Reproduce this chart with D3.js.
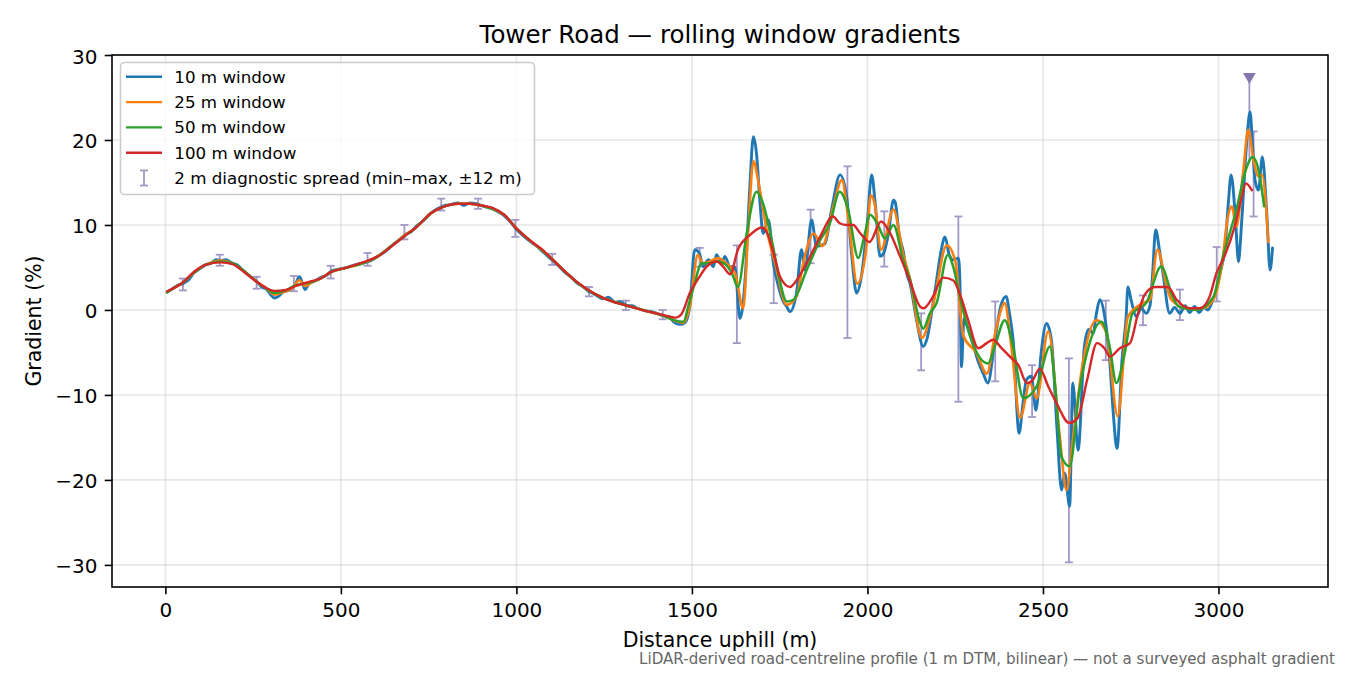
<!DOCTYPE html>
<html lang="en">
<head>
<meta charset="UTF-8">
<title>Tower Road — rolling window gradients</title>
<script src="https://cdn.jsdelivr.net/npm/d3@7"></script>
<style>
  body { margin: 0; background: #fff; }
  text { font-family: "DejaVu Sans", sans-serif; }
</style>
</head>
<body>
<svg id="chart" width="1350" height="675"></svg>
<script>
// ---- data (distance m, gradient %) ----
const win10 = [[5,2.1],[20,2.5],[35,2.9],[50,3.1],[65,3.5],[82,4.4],[100,4.9],[114,5.3],[130,5.5],[145,5.9],[158,5.8],[172,5.9],[191,5.5],[205,5.3],[223,4.6],[240,4.0],[261,3.3],[275,2.7],[289,2.4],[300,1.8],[311,1.4],[322,1.6],[335,2.1],[350,2.3],[362,2.6],[370,3.0],[382,3.9],[390,3.2],[398,2.4],[409,3.1],[425,3.4],[442,3.8],[460,4.1],[474,4.6],[495,4.8],[518,5.0],[540,5.3],[562,5.5],[585,5.8],[605,6.3],[627,6.9],[649,7.7],[668,8.3],[685,8.9],[700,9.2],[714,9.8],[735,10.5],[757,11.4],[775,11.9],[790,12.2],[812,12.4],[834,12.6],[850,12.3],[867,12.6],[885,12.5],[900,12.3],[915,12.1],[932,11.9],[950,11.5],[965,11.1],[982,10.4],[1000,9.5],[1020,8.7],[1041,8.0],[1058,7.5],[1074,6.9],[1090,6.3],[1104,5.8],[1120,5.2],[1139,4.4],[1155,3.9],[1172,3.2],[1188,2.8],[1205,2.2],[1220,1.9],[1232,1.6],[1248,1.3],[1262,1.5],[1281,0.9],[1296,1.0],[1316,0.5],[1330,0.5],[1345,0.2],[1368,-0.1],[1385,-0.2],[1400,-0.4],[1420,-0.7],[1435,-0.8],[1448,-1.4],[1465,-1.7],[1480,-1.5],
  [1494,0.4],[1508,7.1],[1521,6.7],[1532,5.1],[1547,5.9],[1561,5.1],[1570,6.5],[1585,5.5],[1594,6.3],[1608,5.1],[1622,5.1],[1637,-1.0],[1651,3.3],[1665,14.5],[1675,20.4],[1684,18.4],[1694,12.6],[1703,9.0],[1718,10.6],[1732,5.5],[1745,3.0],[1760,1.0],[1770,0.4],[1779,-0.2],[1798,2.0],[1812,7.1],[1822,4.7],[1841,10.6],[1855,7.5],[1879,7.8],[1898,11.8],[1922,15.9],[1941,13.3],[1955,6.5],[1969,2.0],[1984,4.3],[2000,10.5],[2012,15.9],[2022,12.6],[2036,6.3],[2045,6.6],[2060,9.0],[2074,12.9],[2079,12.7],[2090,9.0],[2103,6.7],[2112,4.3],[2122,3.0],[2140,-1.2],[2159,-4.3],[2169,-3.5],[2187,0.8],[2197,3.5],[2210,7.0],[2221,8.6],[2233,6.5],[2245,5.9],[2259,6.1],[2263,4.0],[2268,-6.7],[2275,-1.0],[2283,-1.8],[2297,-3.5],[2315,-6.0],[2330,-7.5],[2343,-8.6],[2362,-3.9],[2380,0.5],[2395,1.6],[2405,-0.5],[2415,-3.5],[2432,-14.5],[2443,-11.0],[2453,-8.2],[2467,-7.8],[2480,-11.8],[2495,-5.0],[2510,-1.6],[2524,-3.5],[2540,-14.0],[2553,-21.2],[2562,-19.2],[2576,-23.1],[2585,-8.6],[2600,-16.5],[2618,-4.3],[2630,-2.3],[2643,-2.7],[2652,-0.5],[2662,1.2],[2676,-0.8],[2690,-5.9],[2700,-12.0],[2711,-16.3],[2725,-6.0],[2737,-0.8],[2742,2.7],[2752,1.0],[2766,-0.8],[2780,0.2],[2794,-0.4],[2805,0.5],[2812,4.0],[2821,9.4],[2832,7.0],[2842,4.3],[2861,-0.4],[2875,0.3],[2890,-0.4],[2905,0.5],[2918,-0.3],[2932,0.4],[2945,-0.3],[2958,0.3],[2970,0.0],[2984,1.2],[2995,2.5],[3004,4.3],[3019,7.5],[3028,12.5],[3036,15.9],[3048,11.0],[3057,5.7],[3064,9.0],[3071,13.7],[3080,19.5],[3090,23.3],[3097,19.5],[3104,15.3],[3114,14.1],[3125,18.0],[3138,11.0],[3147,4.7],[3154,7.3]];

const win25 = [[5,2.1],[25,2.6],[49,3.2],[82,4.4],[114,5.3],[140,5.7],[158,5.8],[191,5.5],[223,4.6],[261,3.3],[289,2.5],[311,1.8],[335,2.1],[360,2.5],[382,3.5],[398,2.8],[420,3.3],[442,3.7],[474,4.5],[518,5.0],[562,5.5],[605,6.3],[649,7.7],[685,8.9],[714,9.7],[757,11.4],[790,12.1],[834,12.5],[867,12.5],[900,12.3],[932,11.9],[965,11.2],[1000,9.6],[1041,8.1],[1074,7.0],[1104,5.9],[1139,4.5],[1172,3.3],[1205,2.3],[1248,1.4],[1281,0.9],[1316,0.5],[1368,-0.1],[1420,-0.7],[1448,-1.2],[1476,-1.5],
  [1494,0.4],[1517,6.5],[1530,5.5],[1550,5.7],[1574,6.1],[1597,5.5],[1623,4.3],[1646,0.2],[1661,9.8],[1675,17.5],[1690,14.9],[1713,9.4],[1737,5.5],[1770,0.6],[1798,1.6],[1819,5.9],[1847,9.0],[1871,7.5],[1903,12.2],[1927,15.3],[1946,10.6],[1971,3.1],[1995,6.7],[2010,13.5],[2020,12.6],[2039,7.1],[2074,11.8],[2101,6.7],[2122,3.5],[2155,-3.3],[2187,0.6],[2226,7.6],[2250,5.8],[2273,-3.0],[2311,-5.1],[2340,-7.5],[2365,-2.5],[2391,0.8],[2410,-4.3],[2435,-12.7],[2463,-8.6],[2482,-10.4],[2515,-2.5],[2547,-14.5],[2567,-21.2],[2585,-15.3],[2615,-5.9],[2652,-1.2],[2681,-2.7],[2713,-12.5],[2742,-0.8],[2785,0.8],[2805,1.2],[2826,7.1],[2853,2.7],[2866,1.2],[2908,0.2],[2955,0.2],[2985,1.2],[3009,5.1],[3027,11.0],[3038,12.2],[3051,9.8],[3070,16.1],[3085,21.2],[3100,17.6],[3114,15.7],[3124,15.9],[3142,8.0]];

const win50 = [[5,2.1],[25,2.6],[49,3.2],[82,4.4],[114,5.3],[158,5.7],[191,5.5],[223,4.6],[261,3.3],[289,2.5],[311,2.0],[343,2.3],[370,2.9],[409,3.2],[442,3.7],[474,4.5],[518,5.0],[562,5.5],[605,6.3],[649,7.7],[685,8.8],[714,9.7],[757,11.4],[790,12.1],[834,12.5],[867,12.5],[900,12.3],[932,11.9],[965,11.2],[1000,9.6],[1041,8.1],[1074,7.0],[1104,5.9],[1139,4.5],[1172,3.3],[1205,2.3],[1248,1.4],[1281,0.9],[1316,0.5],[1368,-0.1],[1420,-0.7],
  [1448,-1.2],[1476,-1.4],[1490,0.5],[1505,2.7],[1528,5.5],[1551,5.5],[1574,5.7],[1597,5.3],[1615,4.2],[1631,2.7],[1656,9.0],[1684,13.9],[1702,12.6],[1731,7.5],[1750,3.5],[1770,1.0],[1789,1.2],[1827,4.7],[1865,8.2],[1893,10.2],[1921,13.9],[1945,11.8],[1974,6.1],[1990,8.5],[2008,11.2],[2030,10.0],[2050,8.4],[2074,10.0],[2101,6.0],[2122,3.5],[2150,-1.5],[2159,-2.2],[2178,-0.4],[2197,0.8],[2229,6.5],[2245,5.0],[2263,1.6],[2296,-3.5],[2343,-6.3],[2365,-4.0],[2391,-1.2],[2415,-4.3],[2444,-10.4],[2482,-9.0],[2520,-4.3],[2535,-9.0],[2553,-17.3],[2576,-18.4],[2604,-9.4],[2633,-3.9],[2667,-1.4],[2690,-4.3],[2709,-8.6],[2731,-5.5],[2755,-0.4],[2794,0.8],[2837,5.1],[2869,1.6],[2887,0.4],[2938,0.0],[2985,1.5],[3013,6.3],[3051,11.8],[3078,16.5],[3097,18.0],[3116,16.1],[3130,12.2]];

const win100 = [[5,2.2],[49,3.2],[82,4.5],[114,5.3],[158,5.6],[191,5.4],[223,4.5],[261,3.3],[289,2.55],[311,2.24],[343,2.35],[370,2.8],[409,3.3],[442,3.7],[474,4.5],[518,5.0],[562,5.6],[605,6.3],[649,7.65],[685,8.8],[714,9.7],[757,11.4],[790,12.1],[834,12.5],[867,12.5],[900,12.3],[932,12.0],[965,11.2],[1000,9.6],[1041,8.1],[1074,7.1],[1104,5.9],[1139,4.5],[1172,3.3],[1205,2.35],[1248,1.4],[1281,0.9],[1316,0.5],[1368,-0.1],[1420,-0.6],[1453,-0.9],[1470,-0.5],
  [1494,2.0],[1520,3.8],[1542,5.1],[1571,5.7],[1589,5.1],[1609,4.2],[1631,7.1],[1665,8.8],[1699,9.7],[1717,8.8],[1735,6.3],[1751,3.9],[1779,2.7],[1800,3.6],[1827,5.5],[1865,8.6],[1902,11.0],[1921,10.2],[1940,10.0],[1959,10.0],[1980,9.0],[2006,8.0],[2039,10.4],[2060,9.4],[2093,6.3],[2120,3.5],[2150,0.4],[2160,0.2],[2187,1.6],[2215,3.8],[2244,3.5],[2264,1.8],[2287,-1.2],[2316,-4.5],[2340,-3.9],[2358,-3.5],[2380,-4.4],[2406,-5.5],[2430,-6.5],[2454,-8.6],[2470,-8.3],[2491,-6.9],[2515,-9.0],[2538,-10.9],[2575,-13.3],[2599,-12.7],[2626,-8.2],[2654,-3.9],[2675,-4.5],[2691,-5.5],[2719,-4.5],[2748,-3.9],[2771,-0.4],[2790,1.8],[2819,2.7],[2856,2.7],[2881,1.2],[2918,0.2],[2947,0.2],[2975,1.6],[2994,4.3],[3017,6.3],[3046,9.8],[3064,12.9],[3078,14.9],[3095,14.1]];

// 2 m diagnostic spread (min–max within ±12 m)
const spreadAt  = [50,155,260,366,471,576,681,786,891,997,1102,1207,1312,1417,1522,1628,1733,1838,1943,2048,2153,2259,2364,2469,2574,2679,2785,2890,2995,3100];
const spreadMin = [2.3,5.2,2.5,2.2,3.7,5.2,8.3,11.7,11.9,8.6,5.3,1.6,0.0,-1.1,5.1,-3.9,0.8,5.5,-3.3,5.1,-7.1,-10.8,-8.4,-12.6,-29.7,-5.9,-1.8,-1.2,1.0,11.0];
const spreadMax = [3.7,6.5,3.9,4.0,5.2,6.7,10.0,13.1,13.1,10.6,6.6,2.7,1.1,0.0,7.3,7.6,6.5,11.8,16.9,11.6,-0.4,11.0,1.0,-6.5,-5.7,1.1,1.7,2.4,7.4,21.0];
// steepest 2 m reading, flagged with a marker
const peakAt = 3088, peakTop = 27.3, peakFoot = 17.6;

const seriesNames  = ["10 m window", "25 m window", "50 m window", "100 m window"];
const seriesColors = ["#1f77b4", "#ff7f0e", "#2ca02c", "#d62728"];
const seriesWidths = [2.9, 2.6, 2.5, 2.4];
const xTicks = [0, 500, 1000, 1500, 2000, 2500, 3000];
const yTicks = [-30, -20, -10, 0, 10, 20, 30];

// ---- layout ----
const W = 1350, H = 675;
const L = 112, R = 1328, T = 55, B = 587;
const svg = d3.select("#chart");
svg.append("rect").attr("width", W).attr("height", H).attr("fill", "#fff");

const x = d3.scaleLinear().domain([-152, 3312]).range([L, R]);
const y = d3.scaleLinear().domain([-32.6, 30]).range([B, T]);

svg.append("defs").append("clipPath").attr("id", "plotClip")
  .append("rect").attr("x", L).attr("y", T).attr("width", R - L).attr("height", B - T);

// grid
const grid = svg.append("g");
grid.selectAll(".gx").data(xTicks).enter().append("line")
  .attr("x1", d => x(d)).attr("x2", d => x(d)).attr("y1", T).attr("y2", B)
  .attr("stroke", "#b0b0b0").attr("stroke-opacity", 0.3).attr("stroke-width", 1.6);
grid.selectAll(".gy").data(yTicks).enter().append("line")
  .attr("x1", L).attr("x2", R).attr("y1", d => y(d)).attr("y2", d => y(d))
  .attr("stroke", "#b0b0b0").attr("stroke-opacity", 0.3).attr("stroke-width", 1.6);

const plot = svg.append("g").attr("clip-path", "url(#plotClip)");

// error bars (behind the lines)
const barColor = "#a397c7";
const bars = plot.append("g");
spreadAt.forEach((d, i) => {
  const g = bars.append("g").attr("stroke", barColor).attr("stroke-width", 1.8);
  g.append("line").attr("x1", x(d)).attr("x2", x(d)).attr("y1", y(spreadMin[i])).attr("y2", y(spreadMax[i]));
  g.append("line").attr("x1", x(d) - 4).attr("x2", x(d) + 4).attr("y1", y(spreadMin[i])).attr("y2", y(spreadMin[i]));
  g.append("line").attr("x1", x(d) - 4).attr("x2", x(d) + 4).attr("y1", y(spreadMax[i])).attr("y2", y(spreadMax[i]));
});
bars.append("line")
  .attr("x1", x(peakAt)).attr("x2", x(peakAt)).attr("y1", y(peakTop)).attr("y2", y(peakFoot))
  .attr("stroke", barColor).attr("stroke-width", 1.8);

// rolling window lines
const line = d3.line().x(d => x(d[0])).y(d => y(d[1])).curve(d3.curveMonotoneX);
[win10, win25, win50, win100].forEach((s, i) => {
  plot.append("path").datum(s).attr("d", line)
    .attr("fill", "none").attr("stroke", seriesColors[i])
    .attr("stroke-width", seriesWidths[i])
    .attr("stroke-linejoin", "round").attr("stroke-linecap", "round");
});

// peak marker (downward triangle)
const px = x(peakAt), py = y(peakTop);
svg.append("path")
  .attr("d", `M${px - 6.3},${py - 5} L${px + 6.3},${py - 5} L${px},${py + 6} Z`)
  .attr("fill", "#8576ae");

// axes
const xAxis = svg.append("g").attr("transform", `translate(0,${B})`)
  .call(d3.axisBottom(x).tickValues(xTicks).tickSize(7.3).tickPadding(8.5).tickFormat(d3.format("d")));
const yAxis = svg.append("g").attr("transform", `translate(${L},0)`)
  .call(d3.axisLeft(y).tickValues(yTicks).tickSize(7.3).tickPadding(7.3)
    .tickFormat(d => d < 0 ? "\u2212" + Math.abs(d) : d));
[xAxis, yAxis].forEach(a => {
  a.select(".domain").remove();
  a.selectAll(".tick line").attr("stroke", "#000").attr("stroke-width", 1.6);
  a.selectAll(".tick text").attr("fill", "#000")
    .style("font-size", "20px").style("font-family", "DejaVu Sans");
});
yAxis.selectAll(".tick text").attr("dy", "0.4em");

// spines
svg.append("rect").attr("x", L).attr("y", T).attr("width", R - L).attr("height", B - T)
  .attr("fill", "none").attr("stroke", "#000").attr("stroke-width", 1.6);

// texts
svg.append("text").attr("x", (L + R) / 2).attr("y", 43).attr("text-anchor", "middle")
  .style("font-size", "24.5px").text("Tower Road — rolling window gradients");
svg.append("text").attr("x", (L + R) / 2).attr("y", 646.5).attr("text-anchor", "middle")
  .style("font-size", "20.5px").text("Distance uphill (m)");
svg.append("text").attr("transform", `translate(41,${(T + B) / 2}) rotate(-90)`)
  .attr("text-anchor", "middle").style("font-size", "20.5px").text("Gradient (%)");
svg.append("text").attr("x", 1335).attr("y", 664).attr("text-anchor", "end")
  .attr("fill", "#666").style("font-size", "15.1px")
  .text("LiDAR-derived road-centreline profile (1 m DTM, bilinear) — not a surveyed asphalt gradient");

// legend
const leg = svg.append("g");
leg.append("rect").attr("x", 120.5).attr("y", 62.5).attr("width", 414).attr("height", 132)
  .attr("rx", 4).attr("fill", "#fff").attr("fill-opacity", 0.8)
  .attr("stroke", "#cccccc").attr("stroke-width", 1.6);
const rowY = i => 76.8 + i * 25.3;
seriesNames.forEach((n, i) => {
  leg.append("line").attr("x1", 126).attr("x2", 162).attr("y1", rowY(i)).attr("y2", rowY(i))
    .attr("stroke", seriesColors[i]).attr("stroke-width", 2.4);
  leg.append("text").attr("x", 174.3).attr("y", rowY(i) + 6).style("font-size", "16.7px").text(n);
});
const ey = rowY(4);
const eg = leg.append("g").attr("stroke", barColor).attr("stroke-width", 1.8);
eg.append("line").attr("x1", 144).attr("x2", 144).attr("y1", ey - 7.5).attr("y2", ey + 7.5);
eg.append("line").attr("x1", 140).attr("x2", 148).attr("y1", ey - 7.5).attr("y2", ey - 7.5);
eg.append("line").attr("x1", 140).attr("x2", 148).attr("y1", ey + 7.5).attr("y2", ey + 7.5);
leg.append("text").attr("x", 174.3).attr("y", ey + 6).style("font-size", "16.7px")
  .text("2 m diagnostic spread (min–max, ±12 m)");
</script>
</body>
</html>
